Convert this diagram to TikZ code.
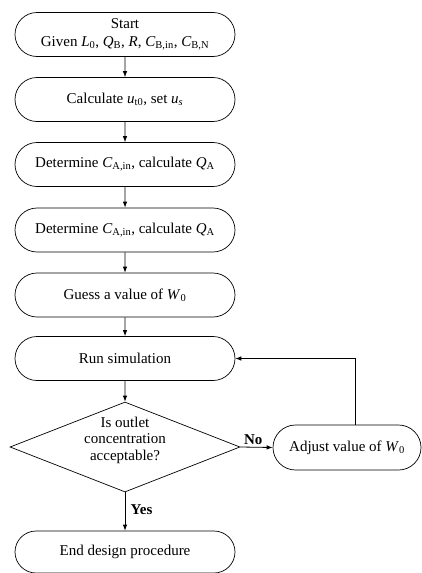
\documentclass[tikz,border=0pt]{standalone}
\usepackage{fontspec}
\setmainfont{Liberation Serif}
\usetikzlibrary{shapes.misc,shapes.geometric,arrows.meta}
\newcommand{\sbx}[1]{\textsubscript{#1}}
\begin{document}
\begin{tikzpicture}[x=1pt,y=-1pt,
  stad/.style={rounded rectangle, draw, line width=0.7pt, minimum width=222pt, minimum height=44pt, inner sep=1pt, align=center, font=\fontsize{15}{18}\selectfont},
  dec/.style={diamond, draw, line width=0.7pt, minimum width=230pt, minimum height=90pt, aspect=2.55, inner sep=0pt},
  txt/.style={align=center, font=\fontsize{15}{16.5}\selectfont},
  conn/.style={draw, line width=0.8pt, -{Latex[length=6pt,width=4.5pt]}},
  lbl/.style={font=\fontsize{15}{16}\selectfont\bfseries}]
\useasboundingbox (0,0) rectangle (422,573);
\node[stad] (start) at (125,34.5) {Start\\Given \textit{L}\sbx{0}, \textit{Q}\sbx{B}, \textit{R}, \textit{C}\sbx{B,in}, \textit{C}\sbx{B,N}};
\node[stad] (calc) at (125,99.5) {Calculate \textit{u}\sbx{t0}, set \textit{u}\sbx{\textit{s}}};
\node[stad] (det1) at (125,164.5) {Determine \textit{C}\sbx{A,in}, calculate \textit{Q}\sbx{A}};
\node[stad] (det2) at (125,230) {Determine \textit{C}\sbx{A,in}, calculate \textit{Q}\sbx{A}};
\node[stad] (guess) at (125,295) {Guess a value of \textit{W}\sbx{0}};
\node[stad] (run) at (125,358.5) {Run simulation};
\node[dec] (dec) at (125,447) {};
\node[txt] (dectext) at (125,440) {Is outlet\\concentration\\acceptable?};
\node[stad, minimum width=150pt, minimum height=45pt] (adj) at (347,447.5) {Adjust value of \textit{W}\sbx{0}};
\node[stad, minimum height=42pt] (end) at (125,552) {End design procedure};
\coordinate (fb) at (355,358.5);
\draw[conn] (start) -- (calc);
\draw[conn] (calc) -- (det1);
\draw[conn] (det1) -- (det2);
\draw[conn] (det2) -- (guess);
\draw[conn] (guess) -- (run);
\draw[conn] (run) -- (dec);
\draw[conn] (dec.east) -- node[lbl, above, pos=0.4, yshift=-1pt] (no) {No} (adj.west);
\draw[conn] (dec.south) -- node[lbl, right, pos=0.45, xshift=2pt] (yes) {Yes} (end.north);
\draw[conn] (adj.north -| fb) -- (fb) -- (run.east);
\end{tikzpicture}
\end{document}
